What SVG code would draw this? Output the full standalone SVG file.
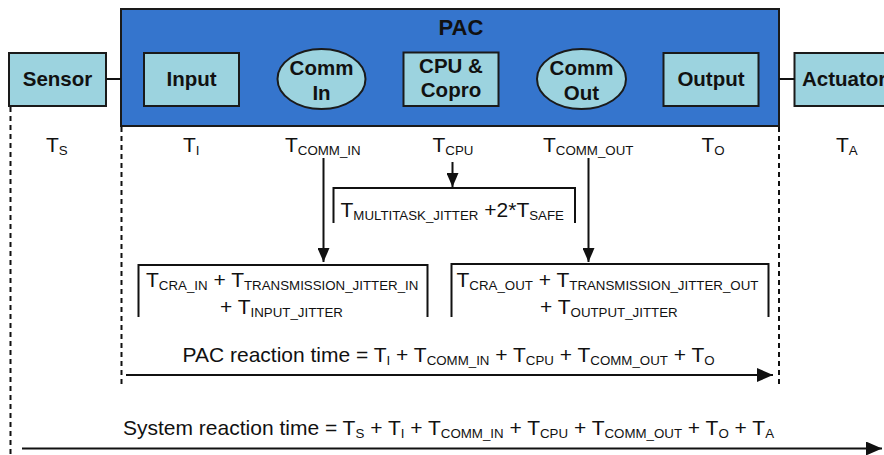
<svg xmlns="http://www.w3.org/2000/svg" width="884" height="455" viewBox="0 0 884 455">
<style>
text{font-family:"Liberation Sans",Arial,sans-serif;fill:#111}
.box{fill:#9cd3df;stroke:#1a1a1a;stroke-width:2}
.b{font-weight:bold;font-size:20.5px;text-anchor:middle}
.t{font-size:21px}
.s{font-size:13.3px}
.ln{stroke:#111;stroke-width:2;fill:none}
.dash{stroke:#111;stroke-width:2;stroke-dasharray:5,4;fill:none}
</style>
<defs>
<marker id="ahb" viewBox="0 0 10 10" refX="10" refY="5" markerWidth="16" markerHeight="14" markerUnits="userSpaceOnUse" orient="auto" preserveAspectRatio="none">
<path d="M0,0 L10,5 L0,10 z" fill="#111"/>
</marker>
<marker id="ahv" viewBox="0 0 10 10" refX="10" refY="5" markerWidth="14" markerHeight="12" markerUnits="userSpaceOnUse" orient="auto" preserveAspectRatio="none">
<path d="M0,0 L10,5 L0,10 z" fill="#111"/>
</marker>
</defs>

<g id="pac">
<rect x="121" y="9" width="658" height="117" fill="#3575cd" stroke="#1a1a1a" stroke-width="2"/>
<text x="461" y="35" class="b" style="font-size:22px">PAC</text>
</g>

<g id="sensor">
<rect class="box" x="9" y="53" width="97" height="53"/>
<text x="57.5" y="86" class="b">Sensor</text>
</g>
<g id="input">
<rect class="box" x="144" y="53" width="95" height="53"/>
<text x="191.5" y="86" class="b">Input</text>
</g>
<g id="commin">
<ellipse class="box" cx="321.5" cy="79" rx="44" ry="30"/>
<text x="321.5" y="75" class="b">Comm</text>
<text x="321.5" y="100" class="b">In</text>
</g>
<g id="cpu">
<rect class="box" x="403.5" y="52.5" width="95" height="53.5"/>
<text x="451" y="73" class="b">CPU &amp;</text>
<text x="451" y="97" class="b">Copro</text>
</g>
<g id="commout">
<ellipse class="box" cx="581.5" cy="79" rx="44.5" ry="30"/>
<text x="581.5" y="75" class="b">Comm</text>
<text x="581.5" y="100" class="b">Out</text>
</g>
<g id="output">
<rect class="box" x="663.5" y="53" width="95" height="53"/>
<text x="711" y="86" class="b">Output</text>
</g>
<g id="actuator">
<rect class="box" x="794.5" y="53" width="100" height="53"/>
<text x="802" y="86" class="b" style="text-anchor:start">Actuator</text>
</g>

<g id="labels">
<text x="46" y="152" class="t">T<tspan class="s" dy="3">S</tspan></text>
<text x="183" y="152" class="t">T<tspan class="s" dy="3">I</tspan></text>
<text x="285" y="152" class="t">T<tspan class="s" dy="3">COMM_IN</tspan></text>
<text x="432.5" y="152" class="t">T<tspan class="s" dy="3">CPU</tspan></text>
<text x="543" y="152" class="t">T<tspan class="s" dy="3">COMM_OUT</tspan></text>
<text x="701.5" y="152" class="t">T<tspan class="s" dy="3">O</tspan></text>
<text x="836" y="152" class="t">T<tspan class="s" dy="3">A</tspan></text>
</g>

<g id="cpu-jitter">
<path class="ln" d="M333.5,223 V188 H575 V223"/>
<text x="340.5" y="216.5" class="t">T<tspan class="s" dy="3">MULTITASK_JITTER</tspan><tspan dy="-3"> +2*T</tspan><tspan class="s" dy="3">SAFE</tspan></text>
</g>
<g id="in-jitter">
<path class="ln" d="M138.5,317 V265 H427.5 V317"/>
<text x="146" y="287" class="t">T<tspan class="s" dy="3">CRA_IN</tspan><tspan dy="-3"> + T</tspan><tspan class="s" dy="3">TRANSMISSION_JITTER_IN</tspan></text>
<text x="220" y="314" class="t">+ T<tspan class="s" dy="3">INPUT_JITTER</tspan></text>
</g>
<g id="out-jitter">
<path class="ln" d="M451.5,317 V264 H768.5 V317"/>
<text x="456.5" y="287" class="t">T<tspan class="s" dy="3">CRA_OUT</tspan><tspan dy="-3"> + T</tspan><tspan class="s" dy="3">TRANSMISSION_JITTER_OUT</tspan></text>
<text x="540" y="314" class="t">+ T<tspan class="s" dy="3">OUTPUT_JITTER</tspan></text>
</g>

<g id="connectors">
<line class="ln" x1="106" y1="79" x2="121" y2="79"/>
<line class="ln" x1="779" y1="79" x2="794.5" y2="79"/>
<line class="dash" x1="10.5" y1="107" x2="10.5" y2="455"/>
<line class="dash" x1="121.5" y1="127" x2="121.5" y2="386"/>
<line class="dash" x1="779" y1="127" x2="779" y2="386"/>
<line class="ln" x1="323.5" y1="158" x2="323.5" y2="262" marker-end="url(#ahv)"/>
<line class="ln" x1="452.5" y1="162" x2="452.5" y2="187" marker-end="url(#ahv)"/>
<line class="ln" x1="588.5" y1="158" x2="588.5" y2="262" marker-end="url(#ahv)"/>
<line class="ln" x1="126" y1="375" x2="773" y2="375" marker-end="url(#ahb)"/>
<line class="ln" x1="22" y1="448.5" x2="882" y2="448.5" marker-end="url(#ahb)"/>
</g>

<g id="formulas">
<text x="182.5" y="361.5" class="t">PAC reaction time = T<tspan class="s" dy="3">I</tspan><tspan dy="-3"> + T</tspan><tspan class="s" dy="3">COMM_IN</tspan><tspan dy="-3"> + T</tspan><tspan class="s" dy="3">CPU</tspan><tspan dy="-3"> + T</tspan><tspan class="s" dy="3">COMM_OUT</tspan><tspan dy="-3"> + T</tspan><tspan class="s" dy="3">O</tspan></text>
<text x="123" y="435" class="t">System reaction time = T<tspan class="s" dy="3">S</tspan><tspan dy="-3"> + T</tspan><tspan class="s" dy="3">I</tspan><tspan dy="-3"> + T</tspan><tspan class="s" dy="3">COMM_IN</tspan><tspan dy="-3"> + T</tspan><tspan class="s" dy="3">CPU</tspan><tspan dy="-3"> + T</tspan><tspan class="s" dy="3">COMM_OUT</tspan><tspan dy="-3"> + T</tspan><tspan class="s" dy="3">O</tspan><tspan dy="-3"> + T</tspan><tspan class="s" dy="3">A</tspan></text>
</g>
</svg>
